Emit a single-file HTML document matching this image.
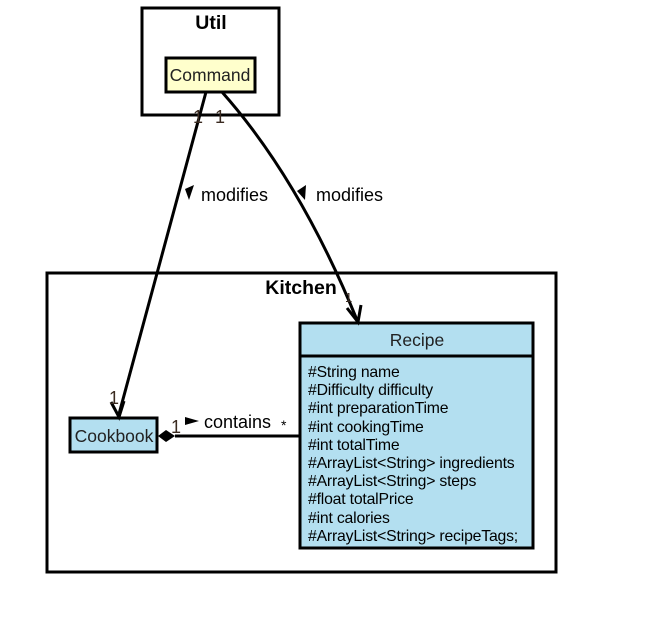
<!DOCTYPE html>
<html><head><style>body{margin:0;background:#fff}</style></head><body>
<svg width="649" height="614" xmlns="http://www.w3.org/2000/svg" font-family="Liberation Sans, sans-serif">
<rect x="142" y="8" width="137" height="107" fill="#fff" stroke="#000" stroke-width="3"/>
<text x="211" y="29" font-size="19.5" font-weight="bold" text-anchor="middle">Util</text>
<rect x="166" y="58" width="89" height="34" fill="#ffffcc" stroke="#000" stroke-width="3"/>
<text x="210" y="81" font-size="17.5" text-anchor="middle" fill="#222">Command</text>
<rect x="47" y="273" width="509" height="299" fill="none" stroke="#000" stroke-width="3"/>
<text x="301" y="294" font-size="19.5" font-weight="bold" text-anchor="middle">Kitchen</text>
<rect x="300" y="323" width="233" height="225" fill="#b3dff0" stroke="#000" stroke-width="3"/>
<line x1="300" y1="356" x2="533" y2="356" stroke="#000" stroke-width="3"/>
<text x="417" y="346" font-size="17.5" text-anchor="middle" fill="#222">Recipe</text>
<g font-size="15.8" fill="#000" letter-spacing="-0.2">
<text x="308" y="377">#String name</text>
<text x="308" y="395">#Difficulty difficulty</text>
<text x="308" y="413">#int preparationTime</text>
<text x="308" y="432">#int cookingTime</text>
<text x="308" y="450">#int totalTime</text>
<text x="308" y="468">#ArrayList&lt;String&gt; ingredients</text>
<text x="308" y="486">#ArrayList&lt;String&gt; steps</text>
<text x="308" y="504">#float totalPrice</text>
<text x="308" y="523">#int calories</text>
<text x="308" y="541">#ArrayList&lt;String&gt; recipeTags;</text>
</g>
<rect x="70" y="418" width="87" height="34" fill="#b3dff0" stroke="#000" stroke-width="3"/>
<text x="114" y="442" font-size="17.5" text-anchor="middle" fill="#222">Cookbook</text>
<line x1="206" y1="92" x2="119" y2="414" stroke="#000" stroke-width="3"/>
<path d="M111,402 L119,417 L124,401" fill="none" stroke="#000" stroke-width="3"/>
<path d="M222,92 Q300,180 357,320" fill="none" stroke="#000" stroke-width="3"/>
<path d="M347,308 L358,322 L361,305" fill="none" stroke="#000" stroke-width="3"/>
<line x1="175" y1="436" x2="300" y2="436" stroke="#000" stroke-width="3"/>
<polygon points="158,436 166,430 175,436 166,442" fill="#000"/>
<g font-size="18" fill="#000">
<text x="201" y="201">modifies</text>
<text x="316" y="201">modifies</text>
<text x="204" y="428">contains</text>
<text x="281" y="430" font-size="14">*</text>
</g>
<polygon points="185,189 194,185 189,200" fill="#000"/>
<polygon points="297,191 306,185 305,200" fill="#000"/>
<polygon points="185,417 199,421 185,425" fill="#000"/>
<g font-size="18" fill="#3a2a20">
<text x="193" y="123">1</text>
<text x="215" y="123">1</text>
<text x="109" y="404">1</text>
<text x="171" y="433">1</text>
<text x="345" y="302" font-size="13">1</text>
</g>
</svg>
</body></html>
